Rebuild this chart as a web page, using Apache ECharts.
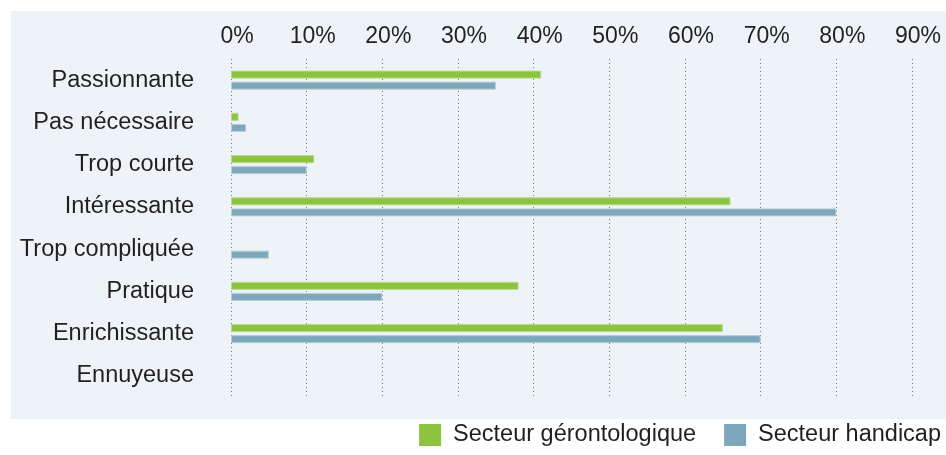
<!DOCTYPE html>
<html>
<head>
<meta charset="utf-8">
<script src="https://cdn.jsdelivr.net/npm/echarts@6/dist/echarts.min.js"></script>
<style>
  html, body { margin: 0; padding: 0; background: #fff; }
  #chart { width: 946px; height: 455px; }
</style>
</head>
<body>
<div id="chart"></div>
<script>
// categories, top to bottom
let categories = ['Passionnante', 'Pas nécessaire', 'Trop courte', 'Intéressante',
    'Trop compliquée', 'Pratique', 'Enrichissante', 'Ennuyeuse'];
let geronto = [41, 1, 11, 66, 0, 38, 65, 0];
let handicap = [35, 2, 10, 80, 5, 20, 70, 0];
let seriesNames = ['Secteur gérontologique', 'Secteur handicap'];

let FONT = 'Liberation Sans, Arial, sans-serif';
let chart = echarts.init(document.getElementById('chart'));

// no visible sliver for zero values
function barData(values) {
    return values.map(function (v) {
        return v === 0 ? { value: v, itemStyle: { borderWidth: 0 } } : v;
    });
}

chart.setOption({
    animation: false,
    graphic: [{
        type: 'rect',
        left: 11, top: 11,
        shape: { width: 935, height: 408 },
        style: { fill: '#eef3f8' },
        z: -10
    }],
    grid: { left: 231, right: 34, top: 59, bottom: 58 },
    legend: {
        data: seriesNames,
        right: 0, bottom: 3,
        itemWidth: 22, itemHeight: 22, itemGap: 28,
        icon: 'rect',
        itemStyle: { borderWidth: 0 },
        textStyle: { fontFamily: FONT, fontSize: 23.5, color: '#231f20', padding: [0, 0, 0, 7] }
    },
    xAxis: {
        type: 'value',
        position: 'top',
        min: 0, max: 90, interval: 10,
        axisLine: { show: false },
        axisTick: { show: false },
        axisLabel: {
            formatter: '{value}%',
            fontFamily: FONT, fontSize: 23, color: '#231f20', margin: 11,
            padding: [0, 0, 0, 12]
        },
        splitLine: { lineStyle: { type: [1, 3], color: '#777', width: 1 } }
    },
    yAxis: {
        type: 'category',
        data: categories,
        inverse: true,
        axisLine: { show: false },
        axisTick: { show: false },
        axisLabel: { fontFamily: FONT, fontSize: 23.5, color: '#231f20', margin: 37 }
    },
    series: [{
        name: seriesNames[0],
        type: 'bar',
        data: barData(geronto),
        barWidth: 8,
        barGap: '38%',
        itemStyle: { color: '#8cc43f', borderColor: '#b8d98f', borderWidth: 1 }
    }, {
        name: seriesNames[1],
        type: 'bar',
        data: barData(handicap),
        barWidth: 8,
        itemStyle: { color: '#7fa7bb', borderColor: '#b7cdd9', borderWidth: 1 }
    }]
});
</script>
</body>
</html>
